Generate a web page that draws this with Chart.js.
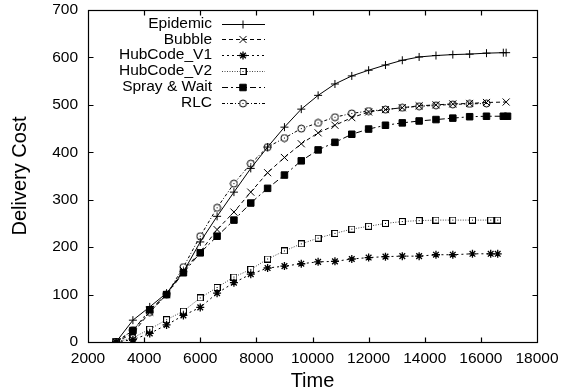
<!DOCTYPE html>
<html><head><meta charset="utf-8">
<script src="https://cdn.jsdelivr.net/npm/chart.js@4/dist/chart.umd.min.js"></script>
<style>html,body{margin:0;padding:0;background:#fff}#wrap{width:574px;height:392px;position:relative}</style>
</head><body><div id="wrap"><canvas id="c" width="574" height="392"></canvas></div>
<script>
// ---- data ----
const seriesNames = ["Epidemic", "Bubble", "HubCode_V1", "HubCode_V2", "Spray & Wait", "RLC"];

const epidemicTime = [3000,3600,4200,4800,5400,6000,6600,7200,7800,8400,9000,9600,10200,10800,11400,12000,12600,13200,13800,14400,15000,15600,16200,16800,16900];
const epidemicCost = [0,46,74,103,148,211,265,316,366,411,453,491,520,544,561,573,584,594,601,604,606,607,609,610,610];

const bubbleTime = [3000,3600,4200,4800,5400,6000,6600,7200,7800,8400,9000,9600,10200,10800,11400,12000,12600,13200,13800,14400,15000,15600,16200,16900];
const bubbleCost = [0,18,63,100,151,190,237,274,316,357,389,418,441,457,473,485,490,494,498,500,502,503,505,506];

const hub1Time = [3000,3600,4200,4800,5400,6000,6600,7200,7800,8400,9000,9600,10200,10800,11400,12000,12600,13200,13800,14400,15000,15700,16350,16600];
const hub1Cost = [0,5,18,36,56,73,103,125,143,156,160,165,169,170,175,178,180,181,181,184,184,186,186,186];

const hub2Time = [3000,3600,4200,4800,5400,6000,6600,7200,7800,8400,9000,9600,10200,10800,11400,12000,12600,13200,13800,14400,15000,15700,16350,16600];
const hub2Cost = [0,9,27,47,65,93,115,137,153,175,192,207,219,229,238,244,250,254,256,257,257,257,257,257];

const sprayTime = [3000,3600,4200,4800,5400,6000,6600,7200,7800,8400,9000,9600,10200,10800,11400,12000,12600,13200,13800,14400,15000,15600,16200,16800,16950];
const sprayCost = [0,24,68,100,146,188,223,257,293,324,352,382,405,421,438,449,457,462,466,469,472,475,476,476,476];

const rlcTime = [3000,3600,4200,4800,5400,6000,6600,7200,7800,8400,9000,9600,10200,10800,11400,12000,12600,13200,13800,14400,15000,15600,16200];
const rlcCost = [0,25,63,100,158,223,283,334,376,411,430,450,462,474,482,487,490,494,497,499,501,502,503];

const xTickValues = [2000,4000,6000,8000,10000,12000,14000,16000,18000];
const yTickValues = [0,100,200,300,400,500,600,700];
const xTitle = "Time";
const yTitle = "Delivery Cost";

// ---- marker images ----
function boxDot(){const c=document.createElement('canvas');c.width=7;c.height=7;const g=c.getContext('2d');
  g.strokeStyle='#000';g.lineWidth=1;g.fillStyle='#fff';g.fillRect(0,0,7,7);g.strokeRect(0.5,0.5,6,6);g.fillStyle='#000';g.fillRect(3,3,1,1);return c;}
function circleDot(){const c=document.createElement('canvas');c.width=9;c.height=9;const g=c.getContext('2d');
  g.strokeStyle='#000';g.lineWidth=1;g.fillStyle='#fff';g.beginPath();g.arc(4.5,4.5,3.5,0,Math.PI*2);g.fill();g.stroke();g.fillStyle='#000';g.fillRect(4,4,1,1);return c;}

function pts(xs, ys){return xs.map((x,i)=>({x:x,y:ys[i]}));}

const datasets = [
  {label:seriesNames[0], data:pts(epidemicTime,epidemicCost), borderColor:'#000', borderWidth:1, borderDash:[], pointStyle:'cross', pointRadius:4, pointBorderColor:'#000', pointBackgroundColor:'#000', pointBorderWidth:1},
  {label:seriesNames[1], data:pts(bubbleTime,bubbleCost), borderColor:'#000', borderWidth:1, borderDash:[4,3], pointStyle:'crossRot', pointRadius:5, pointBorderColor:'#000', pointBackgroundColor:'#000', pointBorderWidth:1},
  {label:seriesNames[2], data:pts(hub1Time,hub1Cost), borderColor:'#000', borderWidth:1, borderDash:[2,3], pointStyle:'star', pointRadius:4, pointBorderColor:'#000', pointBackgroundColor:'#000', pointBorderWidth:1.3},
  {label:seriesNames[3], data:pts(hub2Time,hub2Cost), borderColor:'#444', borderWidth:1, borderDash:[1,1.5], pointStyle:boxDot(), pointRadius:4, pointBorderColor:'#000', pointBackgroundColor:'#fff', pointBorderWidth:1},
  {label:seriesNames[4], data:pts(sprayTime,sprayCost), borderColor:'#000', borderWidth:1, borderDash:[6,3,2,3], pointStyle:'rect', pointRadius:4.6, pointBorderColor:'#000', pointBackgroundColor:'#000', pointBorderWidth:1},
  {label:seriesNames[5], data:pts(rlcTime,rlcCost), borderColor:'#000', borderWidth:1, borderDash:[3,2,1,2], pointStyle:circleDot(), pointRadius:4, pointBorderColor:'#000', pointBackgroundColor:'#fff', pointBorderWidth:1}
];
datasets.forEach(d=>{d.fill=false;d.tension=0;d.pointHoverRadius=d.pointRadius;});

const FONT = '"Liberation Sans", Arial, Helvetica, sans-serif';
Chart.defaults.font.family = FONT;
Chart.defaults.color = '#000';

const framePlugin = {
  id:'frame',
  beforeDatasetsDraw(chart){
    const {ctx, chartArea:a, scales:{x,y}} = chart;
    ctx.save();
    ctx.strokeStyle='#000'; ctx.lineWidth=1.2; ctx.setLineDash([]);
    const L=Math.round(a.left)+0.5, R=Math.round(a.right)+0.5, T=Math.round(a.top)+0.5, B=Math.round(a.bottom)+0.5;
    ctx.strokeRect(L,T,R-L,B-T);
    const tl=5;
    ctx.beginPath();
    xTickValues.forEach(v=>{ if(v===x.min||v===x.max) return; const p=Math.round(x.getPixelForValue(v))+0.5;
      ctx.moveTo(p,B); ctx.lineTo(p,B-tl); ctx.moveTo(p,T); ctx.lineTo(p,T+tl);});
    yTickValues.forEach(v=>{ if(v===y.min||v===y.max) return; const p=Math.round(y.getPixelForValue(v))+0.5;
      ctx.moveTo(L,p); ctx.lineTo(L+tl,p); ctx.moveTo(R,p); ctx.lineTo(R-tl,p);});
    ctx.stroke();
    ctx.restore();
  }
};

const legendPlugin = {
  id:'gpLegend',
  afterDatasetsDraw(chart){
    const ctx = chart.ctx;
    ctx.save();
    ctx.font = '15.5px '+FONT;
    ctx.textAlign='right'; ctx.textBaseline='middle'; ctx.fillStyle='#000';
    const textRight=212, x0=222, x1=265, mx=243, y0=23.5, step=15.8;
    chart.data.datasets.forEach((ds,i)=>{
      const yy = y0 + i*step;
      ctx.fillStyle='#000';
      ctx.fillText(ds.label, textRight, yy);
      ctx.beginPath(); ctx.setLineDash(ds.borderDash||[]); ctx.lineWidth=ds.borderWidth; ctx.strokeStyle=ds.borderColor;
      ctx.moveTo(x0, Math.round(yy)+0.5); ctx.lineTo(x1, Math.round(yy)+0.5); ctx.stroke();
      ctx.setLineDash([]);
      ctx.fillStyle=ds.pointBackgroundColor; ctx.strokeStyle=ds.pointBorderColor; ctx.lineWidth=ds.pointBorderWidth;
      Chart.helpers.drawPoint(ctx, {pointStyle:ds.pointStyle, radius:ds.pointRadius, rotation:0, borderWidth:ds.pointBorderWidth}, mx, Math.round(yy)+0.5);
    });
    ctx.restore();
  }
};

new Chart(document.getElementById('c'), {
  type:'line',
  data:{datasets:datasets},
  options:{
    responsive:false, animation:false, devicePixelRatio:1,
    layout:{padding:{top:10,right:37,left:0,bottom:0}},
    plugins:{legend:{display:false}, tooltip:{enabled:false}},
    scales:{
      x:{type:'linear', min:2000, max:18000,
         afterBuildTicks(s){ s.ticks = xTickValues.map(v=>({value:v})); },
         afterFit(s){ s.height = 50; s.paddingLeft=0; s.paddingRight=0; },
         grid:{display:false, drawTicks:false}, border:{display:false},
         ticks:{padding:7, font:{size:15.5}, color:'#000', maxRotation:0, autoSkip:false, callback:(v)=>String(v)},
         title:{display:true, text:xTitle, font:{size:20}, color:'#000', padding:{top:0,bottom:-1}}},
      y:{type:'linear', min:0, max:700,
         afterBuildTicks(s){ s.ticks = yTickValues.map(v=>({value:v})); },
         afterFit(s){ s.width = 88; s.paddingTop=0; s.paddingBottom=0; },
         grid:{display:false, drawTicks:false}, border:{display:false},
         ticks:{padding:10, font:{size:15.5}, color:'#000', autoSkip:false, callback:(v)=>String(v)},
         title:{display:true, text:yTitle, font:{size:20}, color:'#000', padding:{top:8,bottom:0}}}
    }
  },
  plugins:[framePlugin, legendPlugin]
});
</script></body></html>
